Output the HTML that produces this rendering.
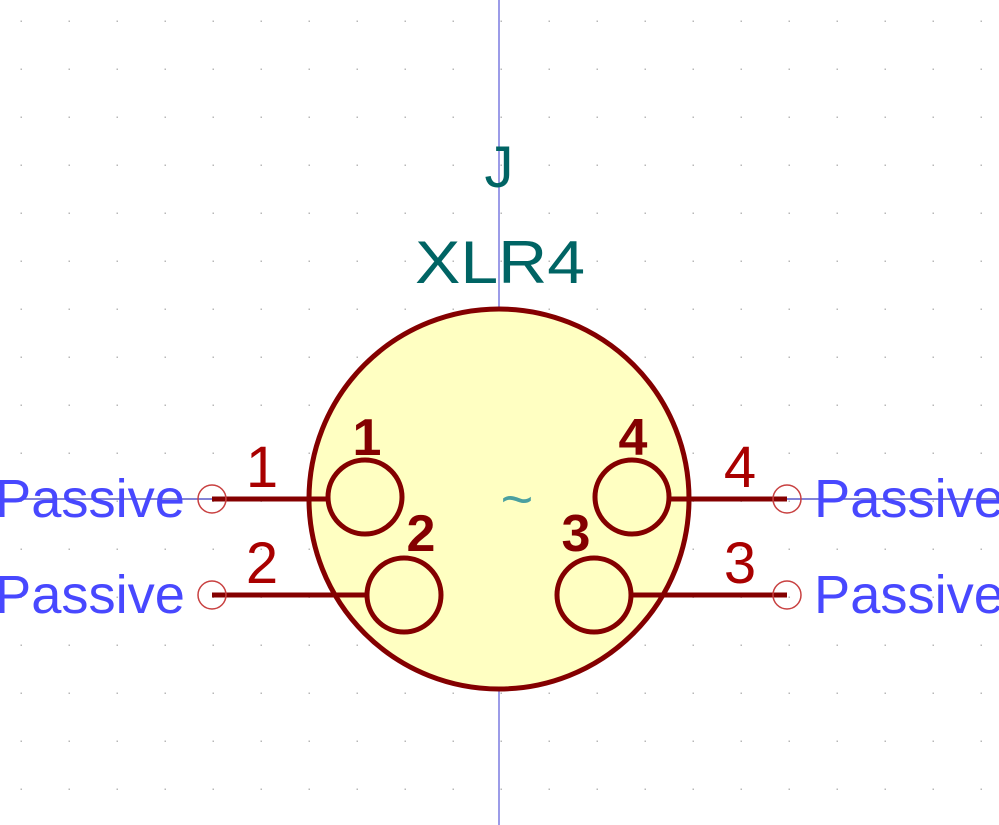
<!DOCTYPE html>
<html><head><meta charset="utf-8"><style>
html,body{margin:0;padding:0;background:#fff;}
svg{display:block;}
text{font-family:"Liberation Sans","DejaVu Sans",sans-serif;}
</style></head><body>
<svg width="999" height="825" viewBox="0 0 999 825">
<g id="grid"></g>
<line x1="499" y1="0" x2="499" y2="825" stroke="#3a3ad0" stroke-width="1"/>
<line x1="0" y1="499" x2="999" y2="499" stroke="#5a5ac8" stroke-width="1.5"/>
<circle cx="499" cy="499" r="190" fill="#ffffc2" stroke="#840000" stroke-width="5"/>
<g stroke="#840000" stroke-width="5" fill="none">
<line x1="212" y1="499" x2="328" y2="499"/>
<line x1="212" y1="595" x2="367" y2="595"/>
<line x1="670" y1="499" x2="787" y2="499"/>
<line x1="632" y1="595" x2="787" y2="595"/>
</g>
<g stroke="#840000" stroke-width="5" fill="none">
<circle cx="365" cy="497" r="37"/>
<circle cx="404" cy="595" r="37"/>
<circle cx="632" cy="497" r="37"/>
<circle cx="594" cy="595" r="37"/>
</g>
<g stroke="#c84040" stroke-width="1.5" fill="none">
<circle cx="212" cy="499" r="14"/><circle cx="212" cy="595" r="14"/>
<circle cx="787" cy="499" r="14"/><circle cx="787" cy="595" r="14"/>
</g>
<text x="499" y="187" font-size="58" fill="#006464" text-anchor="middle">J</text>
<text x="500" y="283" font-size="60" fill="#006464" text-anchor="middle" textLength="170" lengthAdjust="spacingAndGlyphs">XLR4</text>
<text x="517" y="518" font-size="56" fill="#4aa0a0" text-anchor="middle">~</text>
<g font-size="58" fill="#a90000" text-anchor="middle">
<text x="262" y="487">1</text><text x="262" y="583">2</text>
<text x="740" y="487">4</text><text x="740" y="583">3</text>
</g>
<g font-size="52" font-weight="bold" fill="#840000" text-anchor="middle">
<text x="367" y="455">1</text><text x="421" y="551">2</text>
<text x="633" y="455">4</text><text x="576" y="551">3</text>
</g>
<g font-size="54" fill="#4848ff">
<text x="-5" y="517" textLength="190" lengthAdjust="spacingAndGlyphs">Passive</text>
<text x="-5" y="613" textLength="190" lengthAdjust="spacingAndGlyphs">Passive</text>
<text x="814" y="517" textLength="190" lengthAdjust="spacingAndGlyphs">Passive</text>
<text x="814" y="613" textLength="190" lengthAdjust="spacingAndGlyphs">Passive</text>
</g>
</svg>
<script>
var g=document.getElementById('grid');
for(var x=21;x<999;x+=48){for(var y=21;y<825;y+=48){
var r=document.createElementNS('http://www.w3.org/2000/svg','rect');
r.setAttribute('x',x-0.5);r.setAttribute('y',y-0.5);r.setAttribute('width',1.5);r.setAttribute('height',1.5);r.setAttribute('fill','#b8b8b8');


g.appendChild(r);}}
</script>
</body></html>
